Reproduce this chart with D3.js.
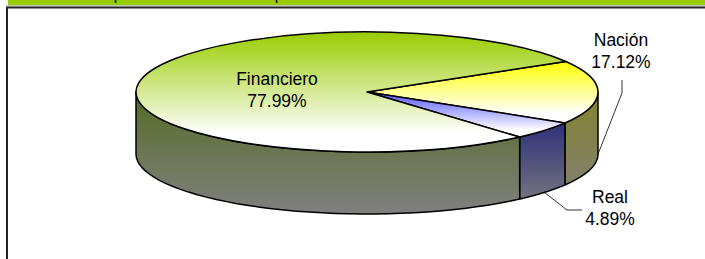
<!DOCTYPE html>
<html lang="es">
<head>
<meta charset="utf-8">
<script src="https://d3js.org/d3.v7.min.js"></script>
<style>
  body { margin: 0; background: #fff; }
  svg { display: block; font-family: "Liberation Sans", Arial, sans-serif; }
</style>
</head>
<body>
<svg id="chart" width="705" height="259"></svg>
<script>
// data
var categories = ['Nación', 'Real', 'Financiero'];
var values = [17.12, 4.89, 77.99];
var labelText = ['17.12%', '4.89%', '77.99%'];
var title = 'Composición del Portafolio por Sector Económico';

var topColors = ['#ffff00', '#5555ff', '#99cc00'];
var sideColors = ['#84842c', '#14147a', '#556b25'];

var svg = d3.select('#chart');
var W = 705, H = 259;

// title bar (cut at top)
svg.append('rect').attr('x', 8).attr('y', -20).attr('width', W).attr('height', 25.5).attr('fill', '#99cc00');
svg.append('text').attr('x', 80).attr('y', -0.3).attr('font-size', 16).attr('fill', '#000').text(title);
svg.append('line').attr('x1', 6).attr('x2', W).attr('y1', 5.8).attr('y2', 5.8).attr('stroke', '#bbb').attr('stroke-width', 1);

// chart frame
svg.append('path')
  .attr('d', 'M7,' + H + 'V7.5H' + W)
  .attr('fill', 'none').attr('stroke', '#222').attr('stroke-width', 2);

var cx = 367, cy = 92, rx = 231, ry = 60, depth = 62;

function pt(phi, dy) {
  return [cx + rx * Math.cos(phi), cy + ry * Math.sin(phi) + (dy || 0)];
}

var pie = d3.pie().sort(null).value(function(d) { return d; })
  .startAngle(59.4 * Math.PI / 180)
  .endAngle(59.4 * Math.PI / 180 + 2 * Math.PI);
var arcs = pie(values).map(function(a, i) {
  return { i: i, a0: a.startAngle - Math.PI / 2, a1: a.endAngle - Math.PI / 2 };
});

var defs = svg.append('defs');
arcs.forEach(function(d) {
  var g = defs.append('linearGradient').attr('id', 'top' + d.i)
    .attr('x1', 0).attr('y1', 0).attr('x2', 0).attr('y2', 1);
  g.append('stop').attr('offset', '0%').attr('stop-color', topColors[d.i]);
  g.append('stop').attr('offset', '85%').attr('stop-color', '#ffffff');
  var s = defs.append('linearGradient').attr('id', 'side' + d.i)
    .attr('gradientUnits', 'userSpaceOnUse')
    .attr('x1', 0).attr('y1', cy).attr('x2', 0).attr('y2', cy + ry + depth);
  s.append('stop').attr('offset', '0%').attr('stop-color', sideColors[d.i]);
  s.append('stop').attr('offset', '100%').attr('stop-color', '#808080');
});

// side walls (front half only: 0..PI)
function wallPath(a, b) {
  var p = [], n = 40, k, t;
  for (k = 0; k <= n; k++) { t = a + (b - a) * k / n; p.push(pt(t)); }
  for (k = n; k >= 0; k--) { t = a + (b - a) * k / n; p.push(pt(t, depth)); }
  return 'M' + p.map(function(q) { return q[0].toFixed(2) + ',' + q[1].toFixed(2); }).join('L') + 'Z';
}

var walls = svg.append('g');
arcs.forEach(function(d) {
  var TWO = 2 * Math.PI;
  // check range in [0, PI] allowing wrap
  [-TWO, 0, TWO].forEach(function(off) {
    var a = Math.max(d.a0 + off, 0), b = Math.min(d.a1 + off, Math.PI);
    if (b > a) {
      walls.append('path').attr('d', wallPath(a, b))
        .attr('fill', 'url(#side' + d.i + ')')
        .attr('stroke', '#000').attr('stroke-width', 1.5).attr('stroke-linejoin', 'round');
    }
  });
});

// top faces
function topPath(d) {
  var p0 = pt(d.a0), p1 = pt(d.a1);
  var large = (d.a1 - d.a0) > Math.PI ? 1 : 0;
  return 'M' + cx + ',' + cy + 'L' + p0[0] + ',' + p0[1] +
    'A' + rx + ',' + ry + ' 0 ' + large + ' 1 ' + p1[0] + ',' + p1[1] + 'Z';
}
svg.append('g').selectAll('path').data(arcs).join('path')
  .attr('d', topPath)
  .attr('fill', function(d) { return 'url(#top' + d.i + ')'; })
  .attr('stroke', '#000').attr('stroke-width', 1.5).attr('stroke-linejoin', 'round');

// labels
var labelPos = [
  { x: 621, y: 46, line: function(e) { return [[622, 80], [622, 93], e]; } },
  { x: 610, y: 203, line: function(e) { return [[582, 210], [567, 210], e]; } },
  { x: 277, y: 85, line: null }
];
arcs.forEach(function(d) {
  var L = labelPos[d.i];
  var t = svg.append('text').attr('text-anchor', 'middle').attr('font-size', 17.5).attr('fill', '#000');
  t.append('tspan').attr('x', L.x).attr('y', L.y).text(categories[d.i]);
  t.append('tspan').attr('x', L.x).attr('y', L.y + 22).text(labelText[d.i]);
  if (L.line) {
    var mid = (d.a0 + d.a1) / 2;
    mid = Math.max(0, Math.min(Math.PI, mid));
    var e = pt(mid, depth);
    svg.append('path').attr('d', d3.line()(L.line(e)))
      .attr('fill', 'none').attr('stroke', '#000').attr('stroke-width', 0.8);
  }
});
</script>
</body>
</html>
